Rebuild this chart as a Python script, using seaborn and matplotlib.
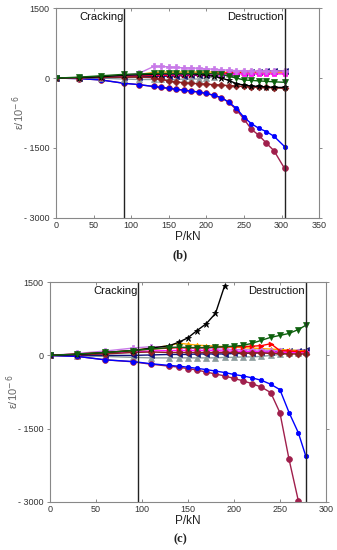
import matplotlib
matplotlib.use("Agg")
import matplotlib.pyplot as plt
import seaborn as sns
import pandas as pd

sns.set_theme(style="white")
plt.rcParams['font.family'] = ['Liberation Sans', 'DejaVu Sans']

# ---------------- data: panel (b) ----------------
LOAD_B = [0, 30, 60, 90, 110, 130, 140, 150, 160, 170, 180, 190, 200, 210, 220, 230, 240, 250, 260, 270, 280, 290, 304]
BLUE_B = [0, -10, -40, -110, -140, -180, -200, -220, -240, -260, -280, -300, -330, -370, -420, -520, -650, -840, -980, -1080, -1150, -1250, -1470]
CRIMSON_B = [0, -10, -40, -110, -140, -180, -200, -220, -240, -260, -280, -300, -330, -370, -420, -520, -680, -880, -1100, -1230, -1400, -1560, -1940]
BLACK_B = [0, 10, 30, 60, 70, 80, 90, 90, 90, 90, 90, 80, 60, 40, 0, -50, -120, -150, -170, -180, -190, -200, -200]
GREEN_B = [0, 20, 50, 80, 90, 100, 100, 100, 100, 100, 100, 100, 100, 90, 80, 40, 0, -40, -50, -60, -70, -80, -90]
DARKRED_B = [0, 10, 20, 20, 20, 10, -30, -60, -80, -100, -110, -120, -130, -140, -150, -160, -170, -180, -190, -200, -200, -210, -220]
VIOLET_B = [0, 10, 30, 60, 100, 250, 250, 240, 230, 220, 220, 210, 200, 190, 180, 170, 160, 160, 150, 150, 150, 150, 150]
MAGENTA_B = [0, 10, 30, 50, 70, 80, 80, 80, 80, 80, 80, 80, 80, 80, 80, 80, 90, 90, 90, 90, 90, 90, 90]
ORANGE_B = [0, 10, 30, 60, 80, 120, 130, 130, 130, 130, 130, 130, 130, 130, 130, 120, 120, 110, 110, 110, 110, 110, 110]
GREY_B = [0, 0, 0, -20, -30, -30, -30, -30, -30, -20, -20, -20, 0, 30, 60, 90, 110, 130, 140, 150, 150, 150, 150]
NAVY_B = [0, 0, 10, 20, 30, 40, 40, 40, 50, 50, 60, 60, 70, 80, 90, 100, 110, 120, 130, 140, 150, 150, 150]
RED_B = [0, 10, 20, 40, 50, 60, 60, 60, 70, 70, 70, 80, 80, 90, 100, 110, 120, 130, 130, 140, 140, 140, 140]
CRACK_B = 91
DESTR_B = 304

# ---------------- data: panel (c) ----------------
LOAD_C = [0, 30, 60, 90, 110, 130, 140, 150, 160, 170, 180, 190, 200, 210, 220, 230, 240, 250, 260, 270, 278]
BLUE_C = [0, -20, -90, -125, -170, -205, -220, -240, -265, -290, -320, -350, -390, -420, -460, -510, -590, -700, -1170, -1580, -2050]
CRIMSON_C = [0, -20, -90, -130, -180, -220, -240, -270, -300, -340, -380, -420, -470, -520, -580, -650, -760, -1170, -2130, -2970]
BLACK_C = [0, 20, 60, 100, 150, 200, 270, 360, 510, 650, 860, 1430]
GREEN_C = [0, 30, 60, 100, 130, 160, 170, 160, 160, 160, 170, 180, 190, 205, 250, 310, 370, 410, 450, 530, 615]
RED_C = [0, 30, 60, 100, 130, 150, 160, 160, 160, 160, 170, 170, 180, 180, 190, 200, 240, 100, 90, 80, 80]
NAVY_C = [0, 0, 0, 0, 10, 20, 20, 20, 30, 30, 30, 30, 40, 40, 50, 60, 70, 90, 100, 100, 110]
GREY_C = [0, -10, -20, -40, -50, -50, -50, -50, -50, -50, -50, -40, -40, -30, -30, -20, 0, 20, 40, 50, 60]
VIOLET_C = [0, 40, 90, 150, 180, 170, 160, 150, 140, 140, 130, 130, 120, 120, 110, 110, 100, 90, 80, 70, 60]
ORANGE_C = [0, 20, 50, 100, 150, 200, 250, 230, 210, 200, 190, 180, 170, 160, 150, 140, 130, 120, 110, 100, 90]
MAGENTA_C = [0, 20, 40, 70, 90, 100, 100, 100, 100, 100, 100, 90, 90, 80, 80, 70, 70, 60, 60, 50, 50]
DARKRED_C = [0, 10, 30, 60, 70, 60, 60, 60, 60, 60, 60, 60, 60, 50, 50, 50, 40, 40, 30, 30, 30]
CRACK_C = 96
DESTR_C = 278

Y_TICKS = [1500, 0, -1500, -3000]
Y_TICK_LABELS = ["1500", "0", "- 1500", "- 3000"]
X_TICKS_B = [0, 50, 100, 150, 200, 250, 300, 350]
X_TICKS_C = [0, 50, 100, 150, 200, 250, 300]

# style per series: colour, marker, size
STYLES = {
    "blue": ("#0000ff", "o", 3.2),
    "crimson": ("#a01f4c", "o", 4.2),
    "grey": ("#8c9c9c", "^", 3.8),
    "navy": ("#10107a", "<", 3.8),
    "orange": ("#ffa500", "^", 3.5),
    "magenta": ("#ff10ff", "s", 3.2),
    "violet": ("#c879e8", "P", 4.5),
    "red": ("#ff0000", ">", 3.5),
    "darkred": ("#8c2020", "D", 3.5),
    "black": ("#000000", "*", 5.0),
    "green": ("#0d600d", "v", 4.8),
}

SERIES_B = [
    ("crimson", LOAD_B, CRIMSON_B), ("blue", LOAD_B, BLUE_B),
    ("grey", LOAD_B, GREY_B), ("navy", LOAD_B, NAVY_B),
    ("orange", LOAD_B, ORANGE_B), ("red", LOAD_B, RED_B),
    ("magenta", LOAD_B, MAGENTA_B), ("violet", LOAD_B, VIOLET_B),
    ("darkred", LOAD_B, DARKRED_B), ("black", LOAD_B, BLACK_B),
    ("green", LOAD_B, GREEN_B),
]
SERIES_C = [
    ("grey", LOAD_C, GREY_C), ("navy", LOAD_C, NAVY_C),
    ("orange", LOAD_C, ORANGE_C), ("violet", LOAD_C, VIOLET_C),
    ("magenta", LOAD_C, MAGENTA_C), ("red", LOAD_C, RED_C),
    ("darkred", LOAD_C, DARKRED_C), ("crimson", LOAD_C, CRIMSON_C),
    ("blue", LOAD_C, BLUE_C), ("black", LOAD_C, BLACK_C),
    ("green", LOAD_C, GREEN_C),
]

fig = plt.figure(figsize=(3.37, 5.5), dpi=100)
fig.patch.set_facecolor("white")
ax_b = fig.add_axes([0.166, 0.604, 0.781, 0.381])
ax_c = fig.add_axes([0.148, 0.0873, 0.819, 0.3997])


def draw(ax, series, xlim, xticks, crack, destr, cap, cap_y):
    for name, xs, ys in series:
        col, mk, ms = STYLES[name]
        df = pd.DataFrame({"P": xs[:len(ys)], "e": ys})
        sns.lineplot(data=df, x="P", y="e", ax=ax, color=col, marker=mk,
                     markersize=ms, markeredgecolor=col, markeredgewidth=0.5,
                     linewidth=1.0, sort=False, clip_on=True)
    ax.axvline(crack, color="#222222", lw=1.0)
    ax.axvline(destr, color="#222222", lw=1.0)
    ax.set_xlim(*xlim)
    ax.set_ylim(-3000, 1500)
    ax.set_xticks(xticks)
    ax.set_xticklabels([str(t) for t in xticks], fontsize=6.5, color="#333333")
    ax.set_yticks(Y_TICKS)
    ax.set_yticklabels(Y_TICK_LABELS, fontsize=6.5, color="#333333")
    ax.tick_params(axis="x", which="both", direction="in", top=True, bottom=True,
                   length=2.5, width=0.6, color="#777777", pad=2)
    ax.tick_params(axis="y", which="both", direction="out", left=True, right=True,
                   length=2.5, width=0.6, color="#777777", pad=2)
    for s in ax.spines.values():
        s.set_color("#888888")
        s.set_linewidth(0.8)
    ax.set_xlabel("P/kN", fontsize=8.5, color="#222222", labelpad=1)
    ax.set_ylabel("ε/10$^{-\\,6}$", fontsize=8, color="#666666", labelpad=-2)
    ax.text(crack - 1, 1430, "Cracking", ha="right", va="top", fontsize=8, color="#111111")
    ax.text(destr - 1, 1430, "Destruction", ha="right", va="top", fontsize=8, color="#111111")
    fig.text(0.535, cap_y, cap, ha="center", va="center", fontsize=9,
             family=["Liberation Serif", "DejaVu Serif"], fontweight="bold", color="#222222")


draw(ax_b, SERIES_B, (0, 350), X_TICKS_B, CRACK_B, DESTR_B, "(b)", 1 - 255 / 550)
draw(ax_c, SERIES_C, (0, 300), X_TICKS_C, CRACK_C, DESTR_C, "(c)", 1 - 539 / 550)

fig.savefig("out.png", dpi=100, facecolor="white")
